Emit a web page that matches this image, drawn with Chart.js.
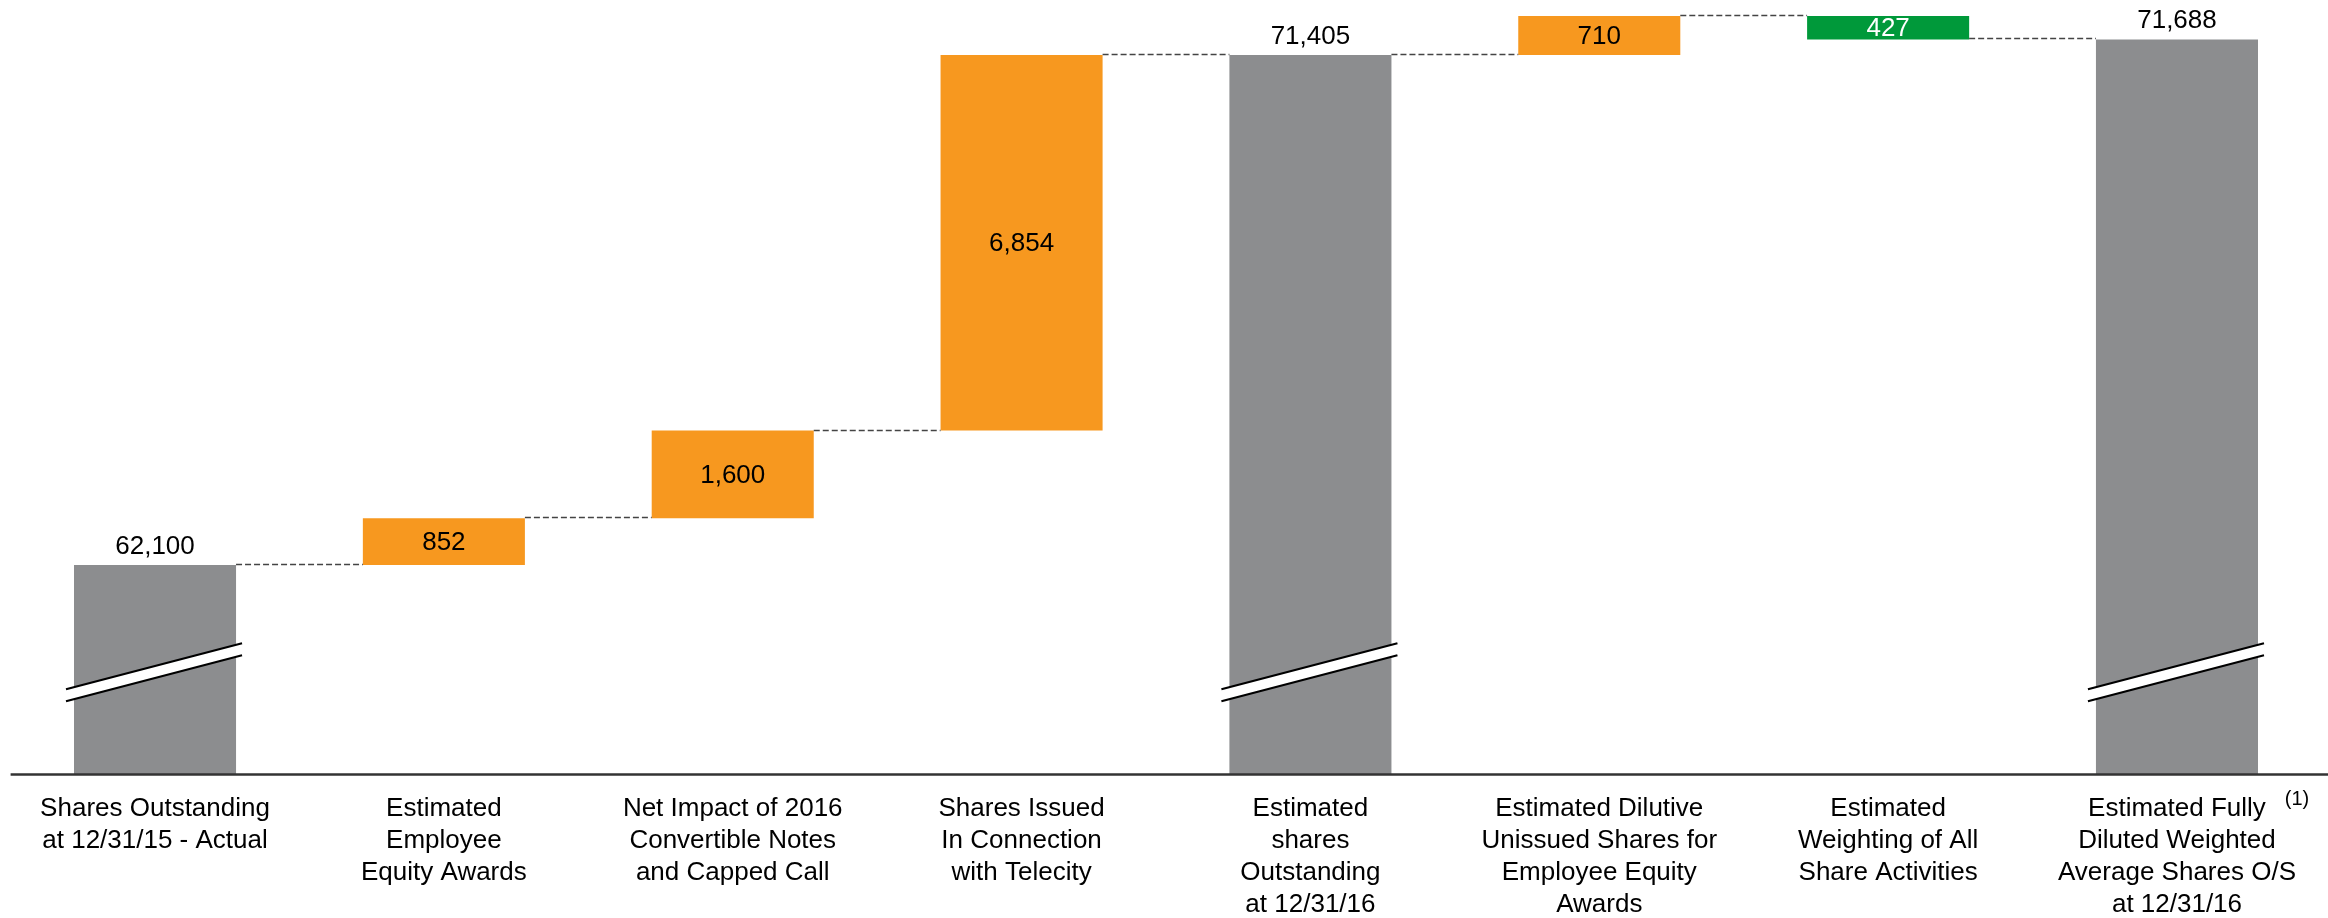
<!DOCTYPE html>
<html>
<head>
<meta charset="utf-8">
<script src="https://cdn.jsdelivr.net/npm/chart.js@4.4.1/dist/chart.umd.min.js"></script>
<style>
  html, body { margin: 0; padding: 0; background: #ffffff; }
  #wrap { width: 2328px; height: 918px; }
</style>
</head>
<body>
<div id="wrap"><canvas id="c" width="2328" height="918"></canvas></div>
<script>
// ---- data ----
const categories = [
  ['Shares Outstanding', 'at 12/31/15 - Actual'],
  ['Estimated', 'Employee', 'Equity Awards'],
  ['Net Impact of 2016', 'Convertible Notes', 'and Capped Call'],
  ['Shares Issued', 'In Connection', 'with Telecity'],
  ['Estimated', 'shares', 'Outstanding', 'at 12/31/16'],
  ['Estimated Dilutive', 'Unissued Shares for', 'Employee Equity', 'Awards'],
  ['Estimated', 'Weighting of All', 'Share Activities'],
  ['Estimated Fully', 'Diluted Weighted', 'Average Shares O/S', 'at 12/31/16']
];
const values = [62100, 852, 1600, 6854, 71405, 710, -427, 71688];
const kinds = ['total', 'increase', 'increase', 'increase', 'total', 'increase', 'decrease', 'total'];
const valueLabels = ['62,100', '852', '1,600', '6,854', '71,405', '710', '427', '71,688'];
const footnote = '(1)';
const axisMin = 58287;   // broken axis: bars start well above zero
const axisMax = 72226;

// ---- build floating ranges for the waterfall ----
const ranges = [];
const ends = [];
let running = 0;
values.forEach((v, i) => {
  if (kinds[i] === 'total') {
    ranges.push([axisMin, v]);
    running = v;
  } else {
    ranges.push([running, running + v]);
    running += v;
  }
  ends.push(running);
});

const colorFor = { total: '#8C8D8F', increase: '#F7981F', decrease: '#00993A' };
const FONT = "'Liberation Sans', Arial, Helvetica, sans-serif";

const waterfallDecor = {
  id: 'waterfallDecor',
  afterDatasetsDraw(chart) {
    const ctx = chart.ctx;
    const meta = chart.getDatasetMeta(0);
    const y = chart.scales.y;
    const area = chart.chartArea;
    const B = area.bottom;

    // dashed connectors
    ctx.save();
    ctx.strokeStyle = '#444444';
    ctx.lineWidth = 1.5;
    ctx.setLineDash([6, 3]);
    for (let i = 0; i < meta.data.length - 1; i++) {
      const a = meta.data[i], b = meta.data[i + 1];
      const py = Math.round(y.getPixelForValue(ends[i])) - 0.5;
      ctx.beginPath();
      ctx.moveTo(a.x + a.width / 2, py);
      ctx.lineTo(b.x - b.width / 2, py);
      ctx.stroke();
    }
    ctx.restore();

    // axis break symbols on total bars
    meta.data.forEach((bar, i) => {
      if (kinds[i] !== 'total') return;
      const c = bar.x;
      const half = bar.width / 2;
      const xl = c - half - 8, xr = c + half + 6;
      const slope = 0.261;
      const cy = (x) => B - 102 - slope * (x - c);
      ctx.save();
      ctx.fillStyle = '#ffffff';
      ctx.beginPath();
      ctx.moveTo(xl, cy(xl) - 6);
      ctx.lineTo(xr, cy(xr) - 6);
      ctx.lineTo(xr, cy(xr) + 6);
      ctx.lineTo(xl, cy(xl) + 6);
      ctx.closePath();
      ctx.fill();
      ctx.strokeStyle = '#000000';
      ctx.lineWidth = 2.2;
      ctx.beginPath();
      ctx.moveTo(xl, cy(xl) - 6);
      ctx.lineTo(xr, cy(xr) - 6);
      ctx.moveTo(xl, cy(xl) + 6);
      ctx.lineTo(xr, cy(xr) + 6);
      ctx.stroke();
      ctx.restore();
    });

    // x axis line
    ctx.save();
    ctx.strokeStyle = '#333333';
    ctx.lineWidth = 2.5;
    ctx.beginPath();
    ctx.moveTo(area.left, B + 0.5);
    ctx.lineTo(chart.width, B + 0.5);
    ctx.stroke();
    ctx.restore();

    // value labels
    ctx.save();
    ctx.font = '26px ' + FONT;
    ctx.textAlign = 'center';
    meta.data.forEach((bar, i) => {
      if (kinds[i] === 'total') {
        ctx.fillStyle = '#000000';
        ctx.textBaseline = 'alphabetic';
        ctx.fillText(valueLabels[i], bar.x, y.getPixelForValue(values[i]) - 11);
      } else {
        const top = y.getPixelForValue(Math.max(ranges[i][0], ranges[i][1]));
        const bot = y.getPixelForValue(Math.min(ranges[i][0], ranges[i][1]));
        ctx.fillStyle = kinds[i] === 'decrease' ? '#ffffff' : '#000000';
        ctx.textBaseline = 'middle';
        ctx.fillText(valueLabels[i], bar.x, (top + bot) / 2 + 1);
      }
    });
    // footnote marker next to last category label
    ctx.font = '20px ' + FONT;
    ctx.fillStyle = '#000000';
    ctx.textBaseline = 'middle';
    const last = meta.data[meta.data.length - 1];
    ctx.fillText(footnote, last.x + 120, B + 25);
    ctx.restore();
  }
};

new Chart(document.getElementById('c'), {
  type: 'bar',
  data: {
    labels: categories,
    datasets: [{
      data: ranges,
      backgroundColor: kinds.map(k => colorFor[k]),
      borderWidth: 0,
      barPercentage: 0.561,
      categoryPercentage: 1.0
    }]
  },
  options: {
    responsive: false,
    devicePixelRatio: 1,
    animation: false,
    layout: { padding: { left: 10.6, right: 6.6, top: 10, bottom: 0 } },
    plugins: { legend: { display: false }, tooltip: { enabled: false } },
    scales: {
      x: {
        grid: { display: false, drawTicks: false },
        border: { display: false },
        ticks: {
          color: '#000000',
          font: { family: FONT, size: 26, lineHeight: 1.23 },
          padding: 19,
          maxRotation: 0,
          minRotation: 0,
          autoSkip: false
        },
        afterFit(scale) { scale.height = 144; }
      },
      y: {
        display: false,
        min: axisMin,
        max: axisMax
      }
    }
  },
  plugins: [waterfallDecor]
});
</script>
</body>
</html>
